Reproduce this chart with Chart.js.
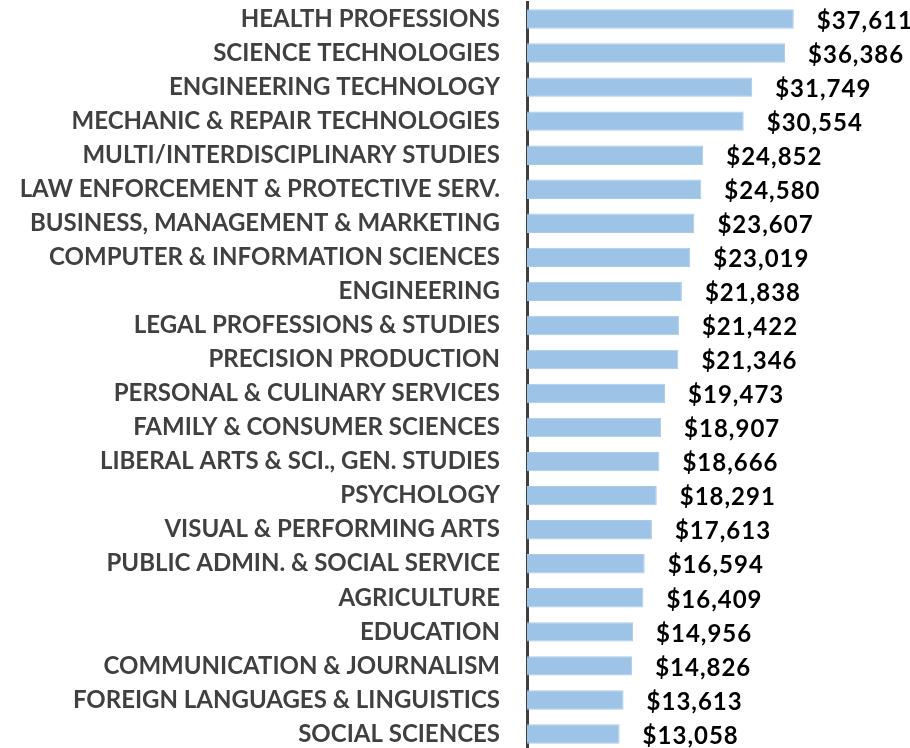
<!DOCTYPE html>
<html>
<head>
<meta charset="utf-8">
<script src="https://cdn.jsdelivr.net/npm/chart.js@4.4.1/dist/chart.umd.min.js"></script>
<style>
html,body{margin:0;padding:0;background:#fff;overflow:hidden;}
#wrap{position:relative;width:910px;height:751px;}
</style>
</head>
<body>
<div id="wrap"><canvas id="c"></canvas></div>
<script>
const categories = [
  "HEALTH PROFESSIONS",
  "SCIENCE TECHNOLOGIES",
  "ENGINEERING TECHNOLOGY",
  "MECHANIC & REPAIR TECHNOLOGIES",
  "MULTI/INTERDISCIPLINARY STUDIES",
  "LAW ENFORCEMENT & PROTECTIVE SERV.",
  "BUSINESS, MANAGEMENT & MARKETING",
  "COMPUTER & INFORMATION SCIENCES",
  "ENGINEERING",
  "LEGAL PROFESSIONS & STUDIES",
  "PRECISION PRODUCTION",
  "PERSONAL & CULINARY SERVICES",
  "FAMILY & CONSUMER SCIENCES",
  "LIBERAL ARTS & SCI., GEN. STUDIES",
  "PSYCHOLOGY",
  "VISUAL & PERFORMING ARTS",
  "PUBLIC ADMIN. & SOCIAL SERVICE",
  "AGRICULTURE",
  "EDUCATION",
  "COMMUNICATION & JOURNALISM",
  "FOREIGN LANGUAGES & LINGUISTICS",
  "SOCIAL SCIENCES"
];
const earnings = [
  37611, 36386, 31749, 30554, 24852, 24580, 23607, 23019, 21838, 21422, 21346,
  19473, 18907, 18666, 18291, 17613, 16594, 16409, 14956, 14826, 13613, 13058
];

const valueLabels = {
  id: 'valueLabels',
  afterDatasetsDraw(chart) {
    const ctx = chart.ctx;
    const meta = chart.getDatasetMeta(0);
    ctx.save();
    ctx.font = 'bold 24px Lato';
    if ('letterSpacing' in ctx) ctx.letterSpacing = '1px';
    ctx.fillStyle = '#000000';
    ctx.textAlign = 'left';
    ctx.textBaseline = 'middle';
    meta.data.forEach((bar, i) => {
      const v = chart.data.datasets[0].data[i];
      ctx.fillText('$' + v.toLocaleString('en-US'), bar.x + 23, bar.y + 2);
    });
    ctx.restore();
  }
};

new Chart(document.getElementById('c'), {
  type: 'bar',
  data: {
    labels: categories,
    datasets: [{
      data: earnings,
      backgroundColor: '#9DC3E6',
      borderColor: '#A9CBEA',
      borderWidth: 1,
      borderSkipped: 'left',
      barPercentage: 0.57,
      categoryPercentage: 1.0
    }]
  },
  options: {
    indexAxis: 'y',
    responsive: true,
    maintainAspectRatio: false,
    animation: false,
    layout: { padding: { top: 2, bottom: 0, left: 0, right: 0 } },
    plugins: { legend: { display: false }, tooltip: { enabled: false } },
    scales: {
      x: {
        display: false,
        min: 0,
        max: 54000
      },
      y: {
        afterFit(scale) {
          scale.width = 527;
          scale.paddingTop = 0;
          scale.paddingBottom = 0;
        },
        grid: { display: false, drawTicks: false },
        border: { display: true, color: '#404040', width: 3 },
        ticks: {
          padding: 27,
          autoSkip: false,
          color: '#404040',
          font: { family: 'Lato', weight: 'bold', size: 24 }
        }
      }
    }
  },
  plugins: [valueLabels]
});
</script>
</body>
</html>
